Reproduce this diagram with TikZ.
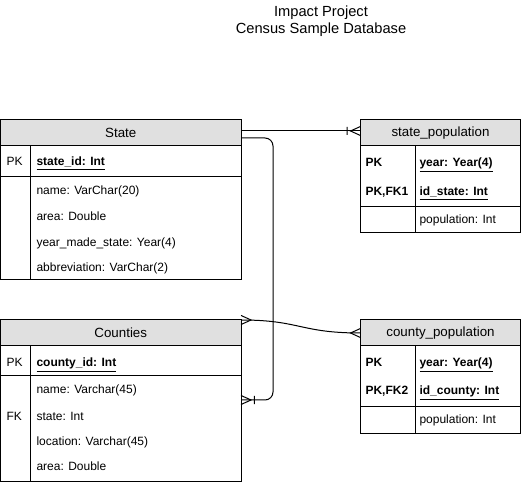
\documentclass[tikz,border=0pt]{standalone}
\usepackage{fontspec}
\setmainfont{Liberation Sans}
\usetikzlibrary{arrows.meta, positioning}

\definecolor{headgray}{HTML}{E0E0E0}

% crow's foot (many) and bar + crow's foot (one or many)
\pgfdeclarearrow{
  name = Crow,
  setup code = {
    \pgfarrowssettipend{0pt}
    \pgfarrowssetlineend{0pt}
    \pgfarrowssetbackend{-7.5pt}
    \pgfarrowshullpoint{0pt}{3.4pt}
    \pgfarrowshullpoint{0pt}{-3.4pt}
    \pgfarrowshullpoint{-7.5pt}{0pt}
  },
  drawing code = {
    \pgfsetdash{}{0pt}
    \pgfpathmoveto{\pgfqpoint{0pt}{3.4pt}}
    \pgfpathlineto{\pgfqpoint{-7.5pt}{0pt}}
    \pgfpathlineto{\pgfqpoint{0pt}{-3.4pt}}
    \pgfusepathqstroke
  }
}
\pgfdeclarearrow{
  name = CrowBar,
  setup code = {
    \pgfarrowssettipend{0pt}
    \pgfarrowssetlineend{0pt}
    \pgfarrowssetbackend{-10pt}
    \pgfarrowshullpoint{0pt}{3.4pt}
    \pgfarrowshullpoint{0pt}{-3.4pt}
    \pgfarrowshullpoint{-10pt}{3pt}
    \pgfarrowshullpoint{-10pt}{-3pt}
  },
  drawing code = {
    \pgfsetdash{}{0pt}
    \pgfpathmoveto{\pgfqpoint{0pt}{3.4pt}}
    \pgfpathlineto{\pgfqpoint{-7.5pt}{0pt}}
    \pgfpathlineto{\pgfqpoint{0pt}{-3.4pt}}
    \pgfpathmoveto{\pgfqpoint{-10pt}{3pt}}
    \pgfpathlineto{\pgfqpoint{-10pt}{-3pt}}
    \pgfusepathqstroke
  }
}

\begin{document}
\begin{tikzpicture}[
    x=0.75pt, y=-0.75pt,
    line width=0.75pt,
    every node/.style={inner sep=0pt, font=\fontsize{9}{11}\selectfont},
    tbl/.style={draw, outer sep=0pt},
    head/.style={tbl, fill=headgray, font=\fontsize{10}{12}\selectfont},
    wide/.style={minimum width=180.4pt},
    slim/.style={minimum width=120pt},
    key/.style={anchor=mid west, font=\fontsize{9}{11}\selectfont\bfseries},
    attr/.style={anchor=mid west},
]
\useasboundingbox (0,0) rectangle (521,484);

% Title
\node[align=center, font=\fontsize{11}{12.75}\selectfont] (title) at (321,21)
    {Impact Project\\Census Sample Database};

% State table
\node[head, wide, minimum height=19.5pt, anchor=north west] (state) at (0.5,120) {State};
\node[tbl, wide, minimum height=23.25pt, below=0pt of state] (state-pk) {};
\node[tbl, wide, minimum height=77.25pt, below=0pt of state-pk] (state-at) {};
\draw ([xshift=22.5pt]state-pk.north west) -- ([xshift=22.5pt]state-at.south west);
\node[attr] (st-pk) at (6,162) {PK};
\node[key] (st-id) at (36,162) {\underline{state\_id: Int}};
\node[attr] (st-a1) at (36,191) {name: VarChar(20)};
\node[attr] (st-a2) at (36,217) {area: Double};
\node[attr] (st-a3) at (36,243) {year\_made\_state: Year(4)};
\node[attr] (st-a4) at (36,268) {abbreviation: VarChar(2)};

% state_population table
\node[head, slim, minimum height=19.5pt, anchor=north west] (spop) at (360.5,120) {state\_population};
\node[tbl, slim, minimum height=45.75pt, below=0pt of spop] (spop-pk) {};
\node[tbl, slim, minimum height=19.5pt, below=0pt of spop-pk] (spop-at) {};
\draw ([xshift=41.6pt]spop-pk.north west) -- ([xshift=41.6pt]spop-at.south west);
\node[key] (sp-k1) at (365,163) {PK};
\node[key] (sp-k2) at (365,192) {PK,FK1};
\node[key] (sp-id1) at (419,163) {\underline{year: Year(4)}};
\node[key] (sp-id2) at (419,192) {\underline{id\_state: Int}};
\node[attr] (sp-a1) at (419,220) {population: Int};

% Counties table
\node[head, wide, minimum height=19.5pt, anchor=north west] (co) at (0.5,320) {Counties};
\node[tbl, wide, minimum height=22.5pt, below=0pt of co] (co-pk) {};
\node[tbl, wide, minimum height=78.75pt, below=0pt of co-pk] (co-at) {};
\draw ([xshift=22.5pt]co-pk.north west) -- ([xshift=22.5pt]co-at.south west);
\node[attr] (co-k1) at (6,363) {PK};
\node[key] (co-id) at (36,363) {\underline{county\_id: Int}};
\node[attr] (co-a1) at (36,390) {name: Varchar(45)};
\node[attr] (co-k2) at (6,417) {FK};
\node[attr] (co-a2) at (36,417) {state: Int};
\node[attr] (co-a3) at (36,442) {location: Varchar(45)};
\node[attr] (co-a4) at (36,467) {area: Double};

% county_population table
\node[head, slim, minimum height=19.5pt, anchor=north west] (cpop) at (360.5,320) {county\_population};
\node[tbl, slim, minimum height=45pt, below=0pt of cpop] (cpop-pk) {};
\node[tbl, slim, minimum height=20.25pt, below=0pt of cpop-pk] (cpop-at) {};
\draw ([xshift=41.6pt]cpop-pk.north west) -- ([xshift=41.6pt]cpop-at.south west);
\node[key] (cp-k1) at (365,363) {PK};
\node[key] (cp-k2) at (365,391) {PK,FK2};
\node[key] (cp-id1) at (419,363) {\underline{year: Year(4)}};
\node[key] (cp-id2) at (419,391) {\underline{id\_county: Int}};
\node[attr] (cp-a1) at (419,420) {population: Int};

% Relations
\draw[-CrowBar] ([yshift=1.5pt]state.east) -- ([yshift=1.5pt]spop.west);

\coordinate (st-out) at (241,138);
\coordinate (co-in) at (241,400);
\draw[-CrowBar, rounded corners=6pt] (st-out) -- ++(32,0) |- (co-in);

\draw[Crow-Crow] (co.north east) .. controls (300,320) and (300,333) .. (cpop.west);

\end{tikzpicture}
\end{document}
